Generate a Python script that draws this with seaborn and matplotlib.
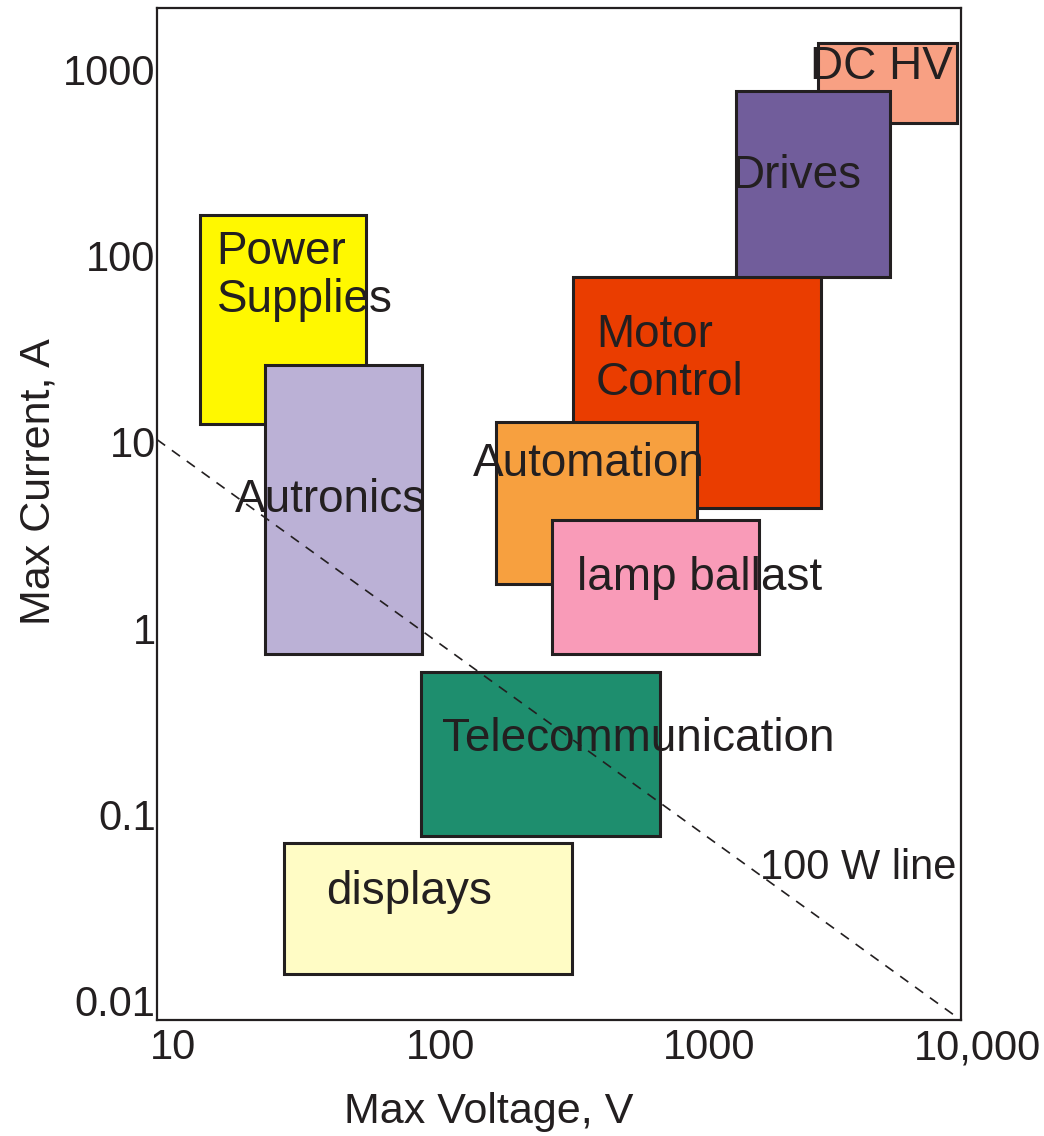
import matplotlib
matplotlib.use("Agg")
import matplotlib.pyplot as plt
from matplotlib.transforms import ScaledTranslation
import seaborn as sns
import pandas as pd

# ---------------- data ----------------
categories = ["Power Supplies", "Autronics", "Motor Control", "Automation",
              "lamp ballast", "DC HV", "Drives", "Telecommunication", "displays"]
v_min = [14.5, 25.3, 356, 184, 298, 2925, 1445, 96.6, 29.8]
v_max = [60.3, 97.5, 3006, 1035, 1762, 9660, 5433, 753, 354]
i_min = [12.5, 0.725, 4.42, 1.72, 0.725, 519, 77.1, 0.0762, 0.0138]
i_max = [166, 25.9, 77.1, 12.8, 3.81, 1397, 771, 0.580, 0.0698]
colors = ["#FFF800", "#BBB1D6", "#EA3D00", "#F7A03F", "#F99BB8",
          "#F8A083", "#715D9B", "#1E8E6E", "#FFFCC5"]

line_v = [10, 10000]
line_i = [10.3, 0.0078]

x_ticks = [10, 100, 1000, 10000]
x_ticklabels = ["10", "100", "1000", "10,000"]
y_ticks = [0.01, 0.1, 1, 10, 100, 1000]
y_ticklabels = ["0.01", "0.1", "1", "10", "100", "1000"]

# label anchors (left, baseline) in data coordinates
label_text = ["Power\nSupplies", "Autronics", "Motor\nControl", "Automation",
              "lamp ballast", "DC HV", "Drives", "Telecommunication", "displays",
              "100 W line"]
label_x = [16.7, 19.5, 434, 151, 369, 2735, 1387, 116, 42.8, 1778]
label_y = [50.0, 4.21, 17.9, 6.56, 1.60, 895, 232, 0.218, 0.0328, 0.0448]

# ---------------- plot ----------------
sns.set_theme(style="white")
plt.rcParams["font.family"] = ["Liberation Sans", "DejaVu Sans"]
plt.rcParams["text.color"] = "#231F20"

fig = plt.figure(figsize=(10.44, 11.36), dpi=100)
ax = fig.add_axes([0.1504, 0.1021, 0.7701, 0.8909])
ax.set_xscale("log")
ax.set_yscale("log")
ax.set_xlim(10, 10000)
ax.set_ylim(0.00781, 2154)

df = pd.DataFrame({"cat": categories, "v0": v_min, "v1": v_max,
                   "i0": i_min, "i1": i_max, "color": colors})
for _, r in df.iterrows():
    ax.bar(r.v0, r.i1 - r.i0, width=r.v1 - r.v0, bottom=r.i0, align="edge",
           color=r.color, edgecolor="#231F20", linewidth=2.2, zorder=2)

sns.lineplot(x=line_v, y=line_i, ax=ax, color="#231F20", linewidth=1.2,
             linestyle=(0, (6, 5)), zorder=4)

for t, x, y in zip(label_text, label_x, label_y):
    fs = 30 if t == "100 W line" else 33
    ax.text(x, y, t, fontsize=fs, ha="left", va="baseline", zorder=5,
            color="#231F20", linespacing=1.12)

ax.set_xticks(x_ticks)
ax.set_xticklabels(x_ticklabels)
ax.set_yticks(y_ticks)
ax.set_yticklabels(y_ticklabels)
ax.minorticks_off()
ax.tick_params(axis="both", length=0, labelsize=30, colors="#231F20")
ax.tick_params(axis="x", pad=6)
ax.tick_params(axis="y", pad=1)
for lab in ax.get_xticklabels():
    lab.set_transform(lab.get_transform() + ScaledTranslation(0.16, 0, fig.dpi_scale_trans))

ax.set_xlabel("Max Voltage, V", fontsize=31, color="#231F20")
ax.set_ylabel("Max Current, A", fontsize=31, color="#231F20")
ax.xaxis.set_label_coords(0.413, -0.071)
ax.yaxis.set_label_coords(-0.122, 0.532)

for s in ax.spines.values():
    s.set_color("#231F20")
    s.set_linewidth(1.6)
    s.set_visible(True)
ax.grid(False)

fig.savefig("out.png", dpi=100)
